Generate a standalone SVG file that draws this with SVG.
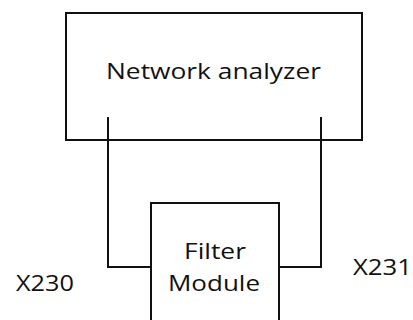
<svg xmlns="http://www.w3.org/2000/svg" width="413" height="320" viewBox="0 0 413 320">
<style>
.box{fill:none;stroke:#111;stroke-width:2}
.wire{fill:none;stroke:#111;stroke-width:2}
text{font-family:"Open Sans","Liberation Sans",sans-serif;fill:#111;font-size:22px}
</style>
<rect width="413" height="320" fill="#fff"/>
<g id="network-analyzer">
<rect class="box" x="66" y="13" width="296" height="127"/>
<text x="106" y="79" textLength="215" lengthAdjust="spacingAndGlyphs">Network analyzer</text>
</g>
<g id="filter-module">
<path class="box" d="M151,322 V203 H279 V322"/>
<text x="184" y="259" textLength="62" lengthAdjust="spacingAndGlyphs">Filter</text>
<text x="168" y="291" textLength="92" lengthAdjust="spacingAndGlyphs">Module</text>
</g>
<g id="connectors">
<path class="wire" d="M108,117 V267 H151"/>
<path class="wire" d="M321,117 V267 H279"/>
</g>
<g id="labels">
<text x="16" y="291" textLength="58" lengthAdjust="spacingAndGlyphs">X230</text>
<text x="353" y="275" textLength="59" lengthAdjust="spacingAndGlyphs">X231</text>
</g>
</svg>
